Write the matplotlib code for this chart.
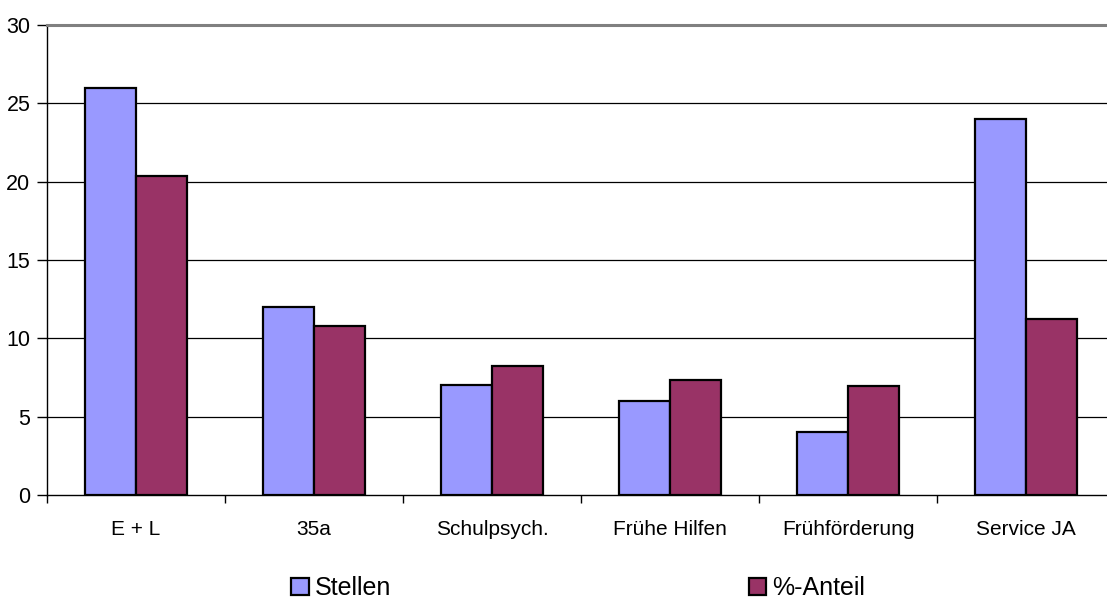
import matplotlib
matplotlib.use("Agg")
import matplotlib.pyplot as plt
import numpy as np
from matplotlib.patches import Patch

categories = ["E + L", "35a", "Schulpsych.", "Frühe Hilfen", "Frühförderung", "Service JA"]
stellen = [26, 12, 7, 6, 4, 24]
anteil = [20.36, 10.8, 8.25, 7.33, 6.97, 11.23]
series_names = ["Stellen", "%-Anteil"]
y_ticks = [0, 5, 10, 15, 20, 25, 30]

plt.rcParams["font.family"] = ["Liberation Sans", "DejaVu Sans"]

W, H = 1107, 599
fig = plt.figure(figsize=(W / 100, H / 100), dpi=100)
left, right, top, bottom = 47, 1115, 25, 495
ax = fig.add_axes([left / W, 1 - bottom / H, (right - left) / W, (bottom - top) / H])

x = np.arange(len(categories))
bw = 0.284
blue = "#9999FF"
red = "#993366"
ax.bar(x - bw / 2, stellen, bw, color=blue, edgecolor="black", linewidth=1.6, zorder=3)
ax.bar(x + bw / 2, anteil, bw, color=red, edgecolor="black", linewidth=1.6, zorder=3)

ax.set_xlim(-0.5, len(categories) - 0.5)
ax.set_ylim(0, 30)
ax.set_yticks(y_ticks)
ax.set_yticklabels([str(t) for t in y_ticks], fontsize=15.5)
for t in y_ticks[1:-1]:
    ax.axhline(t, color="black", linewidth=0.9, zorder=1)

ax.set_xticks(x)
ax.set_xticklabels(categories, fontsize=15)
ax.tick_params(axis="x", which="major", length=0, pad=18)
ax.set_xticks(np.arange(len(categories) + 1) - 0.5, minor=True)
ax.tick_params(axis="x", which="minor", length=6, width=1, direction="out")
ax.tick_params(axis="y", length=7, width=1, direction="out", pad=5)

for s in ["left", "bottom"]:
    ax.spines[s].set_color("black")
    ax.spines[s].set_linewidth(1.0)
ax.spines["top"].set_color("#808080")
ax.spines["top"].set_linewidth(2.2)
ax.spines["right"].set_color("#808080")
ax.spines["right"].set_linewidth(2.2)

handles = [Patch(facecolor=blue, edgecolor="black", linewidth=1.6),
           Patch(facecolor=red, edgecolor="black", linewidth=1.6)]
fig.legend(handles, series_names, loc="center left",
           bbox_to_anchor=(291 / W, 1 - 588 / H), ncol=2, frameon=False,
           fontsize=18, handlelength=0.7, handleheight=0.7, handletextpad=0.25,
           columnspacing=14.3, borderpad=0, borderaxespad=0)

fig.savefig("out.png", dpi=100)
